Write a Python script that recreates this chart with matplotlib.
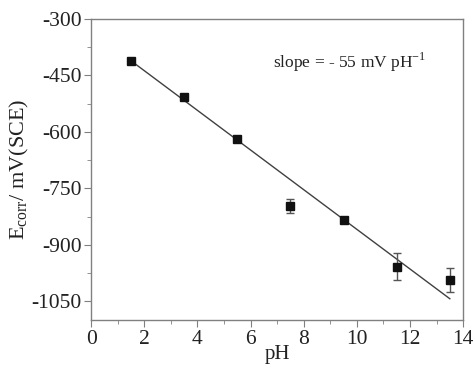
import matplotlib.pyplot as plt
import numpy as np
from matplotlib.ticker import MultipleLocator

plt.rcParams["font.family"] = ["Liberation Serif", "DejaVu Serif"]
plt.rcParams["axes.unicode_minus"] = False

# data
ph = [1.5, 3.5, 5.5, 7.5, 9.5, 11.5, 13.5]
e_corr = [-411, -507, -618, -797, -834, -958, -994]
e_err = [5, 8, 5, 18, 6, 35, 32]

# linear fit shown in the figure
fit_slope = -52.7
fit_intercept = -332
fit_range = [1.5, 13.5]

fig, ax = plt.subplots(figsize=(4.75, 3.73), dpi=100)
fig.subplots_adjust(left=0.192, right=0.975, top=0.949, bottom=0.142)

x_fit = np.array(fit_range)
ax.plot(x_fit, fit_slope * x_fit + fit_intercept, color="#404040", lw=1.0, zorder=2)
ax.errorbar(ph, e_corr, yerr=e_err, fmt="s", color="#111111", ms=6,
            ecolor="#555555", elinewidth=1.0, capsize=3, capthick=1.0, zorder=3)

ax.set_xlim(0, 14)
ax.set_ylim(-1100, -300)
ax.xaxis.set_major_locator(MultipleLocator(2))
ax.xaxis.set_minor_locator(MultipleLocator(1))
ax.yaxis.set_minor_locator(MultipleLocator(75))
ax.set_yticks(np.arange(-1050, -299, 150))

for s in ax.spines.values():
    s.set_color("#808080")
    s.set_linewidth(1.0)
ax.tick_params(which="both", direction="out", color="#808080", labelsize=15.5,
               top=False, right=False, pad=2, labelcolor="#222222")
ax.tick_params(which="major", length=5)
ax.tick_params(which="minor", length=3)

ax.set_xlabel("pH", fontsize=15, labelpad=-3, color="#222222")
ax.set_ylabel(r"E$_{\mathregular{corr}}$/ mV(SCE)", fontsize=16, labelpad=0, color="#222222")
ax.text(0.695, 0.857, r"slope = - 55 mV pH$^{\mathregular{-1}}$", transform=ax.transAxes,
        ha="center", va="center", fontsize=12.5, color="#222222")

fig.savefig("out.png", dpi=100)
